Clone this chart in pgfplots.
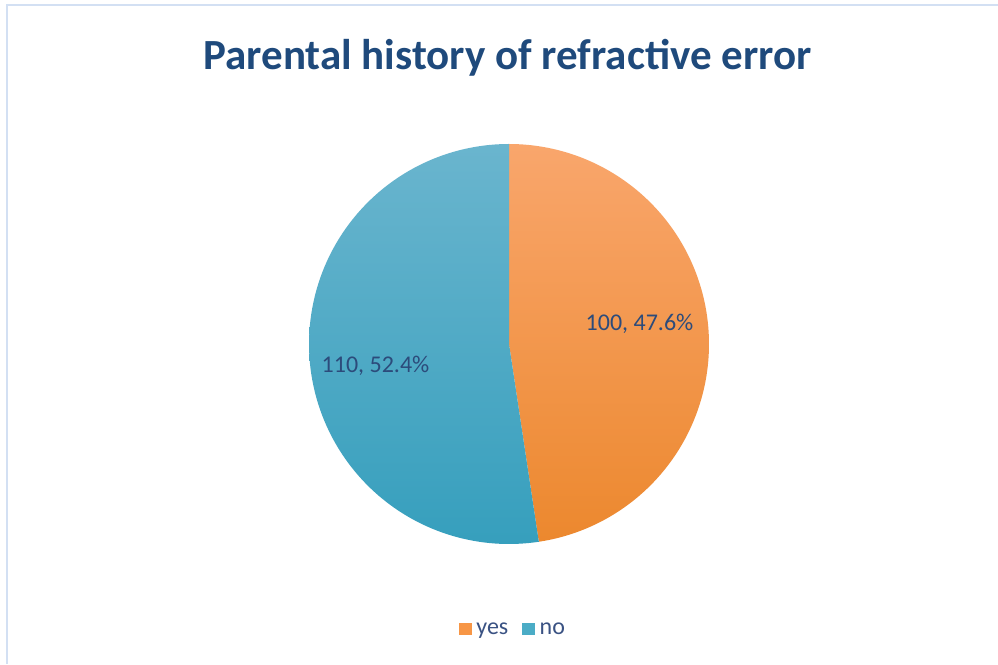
\documentclass[border=0pt]{standalone}
\usepackage{pgfplots}
\pgfplotsset{compat=1.18}
\usepackage{pgfplotstable}
\usepackage{fontspec}
\setmainfont{Carlito}
\definecolor{titleblue}{HTML}{1F4A7C}
\definecolor{labelblue}{HTML}{2C4B7B}
\definecolor{legtext}{HTML}{3A5283}
\definecolor{ortop}{HTML}{F9A66C}
\definecolor{orbot}{HTML}{EC882E}
\definecolor{bltop}{HTML}{6AB5CE}
\definecolor{blbot}{HTML}{369FBD}
\definecolor{legorange}{HTML}{F79646}
\definecolor{legblue}{HTML}{4BACC6}
\definecolor{bordercol}{HTML}{D3E0F3}
\pgfplotstableread{
label value
yes 100
no 110
}\piedata
\pgfplotstablegetelem{0}{value}\of\piedata \let\vA\pgfplotsretval
\pgfplotstablegetelem{1}{value}\of\piedata \let\vB\pgfplotsretval
\pgfmathsetmacro{\fracA}{\vA/(\vA+\vB)}
\pgfmathsetmacro{\angA}{360*\fracA}
\pgfmathsetmacro{\startA}{90-\angA}
\pgfmathsetmacro{\endB}{450-\angA}
\begin{document}
\begin{tikzpicture}
\useasboundingbox (0,0) rectangle (998pt,664pt);
\fill[white] (0,0) rectangle (998pt,664pt);
\draw[bordercol, line width=2pt] (7pt,0) -- (7pt,659pt) -- (998pt,659pt);
\begin{axis}[
  at={(0,0)}, anchor=south west,
  x=1pt, y=1pt, xmin=0, xmax=998, ymin=0, ymax=664,
  hide axis, clip=false,
  legend style={at={(axis cs:513,35)}, anchor=center, draw=none, fill=none,
    legend columns=2, font=\fontsize{24}{28}\selectfont, text=legtext,
    /tikz/every even column/.append style={column sep=12pt},
    legend cell align=left},
]
\addplot[draw=none, top color=ortop, bottom color=orbot, domain=\startA:90, samples=181, forget plot]
  ({509+200*cos(x)},{320+200*sin(x)}) -- (axis cs:509,320) -- cycle;
\addplot[draw=none, top color=bltop, bottom color=blbot, domain=90:\endB, samples=181, forget plot]
  ({509+200*cos(x)},{320+200*sin(x)}) -- (axis cs:509,320) -- cycle;
\addlegendimage{legend image code/.code={\fill[legorange] (0pt,-5pt) rectangle (12pt,6pt); \path (15pt,0pt);}}
\addlegendentry{yes}
\addlegendimage{legend image code/.code={\fill[legblue] (0pt,-5pt) rectangle (12pt,6pt); \path (15pt,0pt);}}
\addlegendentry{no}
\node[anchor=base, text=titleblue, font=\fontsize{43}{48}\selectfont\bfseries] at (axis cs:507.5,594) {Parental history of refractive error};
\node[anchor=center, text=labelblue, font=\fontsize{24}{28}\selectfont] at (axis cs:639.5,340.5) {100, 47.6\%};
\node[anchor=center, text=labelblue, font=\fontsize{24}{28}\selectfont] at (axis cs:375.5,298.5) {110, 52.4\%};
\end{axis}
\end{tikzpicture}
\end{document}
